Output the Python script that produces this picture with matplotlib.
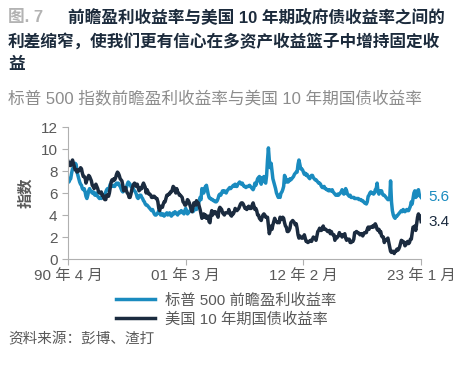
import numpy as np
import pandas as pd
import matplotlib
matplotlib.use("Agg")
import matplotlib.pyplot as plt
import matplotlib.dates as mdates

plt.rcParams['font.family'] = ['Liberation Sans', 'Noto Sans CJK SC', 'DejaVu Sans']

# 月度数据：1990年4月 - 2023年1月
spx_fwd_yield = [
    7.3, 7.0, 7.2, 7.3, 7.8, 8.2, 8.3, 8.5, 8.7,
    8.6, 7.9, 7.6, 7.3, 7.0, 6.8, 6.7, 6.4, 6.3, 6.4, 6.1, 5.7,
    5.5, 5.8, 6.2, 6.4, 6.2, 6.1, 6.0, 6.1, 5.9, 5.8, 6.0, 5.8,
    5.7, 5.6, 5.5, 5.6, 5.5, 5.7, 5.8, 5.8, 5.9, 6.1, 6.3, 6.4,
    6.3, 6.5, 6.8, 6.7, 6.6, 6.7, 6.6, 6.6, 6.8, 6.9, 6.8, 6.9,
    6.7, 6.6, 6.4, 6.2, 6.1, 6.2, 6.3, 6.4, 6.5, 6.8, 7.0, 6.9,
    6.8, 6.6, 6.5, 6.6, 6.3, 6.2, 6.1, 5.9, 5.6, 5.5, 5.7, 5.8,
    5.8, 5.6, 5.5, 5.3, 5.2, 5.0, 4.9, 4.9, 4.8, 4.7, 4.6, 4.5,
    4.4, 4.5, 4.3, 4.1, 4.0, 4.0, 4.1, 4.2, 4.4, 4.3, 4.0, 4.1,
    4.0, 4.1, 3.9, 4.0, 4.1, 4.2, 4.0, 4.1, 4.2, 4.0, 3.9, 4.0,
    4.2, 4.1, 4.3, 4.2, 4.1, 4.0, 4.2, 4.3, 4.2, 4.4, 4.3, 4.2,
    4.1, 4.4, 4.6, 4.3, 4.1, 4.2, 4.3, 4.4, 4.7, 4.5, 4.3, 4.4,
    4.5, 4.6, 4.5, 4.7, 4.9, 5.3, 5.6, 5.4, 6.4, 6.3, 6.0, 6.4,
    6.6, 6.7, 6.3, 5.9, 5.6, 5.5, 5.5, 5.4, 5.4, 5.3, 5.3, 5.2,
    5.2, 5.3, 5.5, 5.8, 5.9, 5.8, 6.0, 6.2, 6.1, 6.2, 6.1, 6.0,
    6.2, 6.3, 6.4, 6.5, 6.4, 6.5, 6.6, 6.7, 6.6, 6.8, 6.6, 6.6,
    6.8, 6.9, 7.0, 6.9, 6.8, 6.9, 6.7, 6.6, 6.6, 6.5, 6.6, 6.6,
    6.6, 6.7, 6.6, 6.5, 6.4, 6.3, 6.5, 6.9, 6.7, 7.0, 7.3, 7.4,
    7.5, 7.0, 6.8, 7.4, 7.2, 7.5, 7.0, 6.9, 7.6, 9.0, 10.1, 9.0,
    8.3, 8.7, 8.0, 7.3, 7.0, 6.7, 6.4, 6.0, 5.8, 5.6, 5.8, 5.6,
    6.0, 6.1, 6.3, 6.6, 7.6, 7.4, 7.0, 7.2, 7.0, 7.1, 7.3, 7.2,
    7.3, 7.4, 7.5, 7.7, 7.8, 7.9, 7.9, 8.6, 9.0, 8.6, 8.2, 8.2,
    8.1, 7.9, 7.7, 7.8, 7.6, 7.7, 7.5, 7.4, 7.3, 7.5, 7.6, 7.6,
    7.4, 7.3, 7.2, 7.2, 7.1, 7.0, 6.9, 6.9, 6.8, 6.6, 6.5, 6.5,
    6.6, 6.4, 6.4, 6.3, 6.3, 6.2, 6.3, 6.2, 6.2, 6.3, 6.1, 6.0,
    5.9, 5.8, 5.8, 5.9, 5.8, 5.9, 6.0, 6.1, 6.3, 6.0, 5.9, 6.0,
    6.4, 6.2, 5.9, 5.8, 5.7, 5.8, 5.6, 5.6, 5.6, 5.6, 5.5, 5.5,
    5.5, 5.5, 5.5, 5.4, 5.4, 5.4, 5.3, 5.3, 5.2, 5.1, 5.1, 5.0,
    5.2, 5.7, 5.8, 6.0, 6.1, 6.0, 6.0, 5.9, 6.0, 6.3, 6.4, 6.9,
    6.1, 5.9, 6.2, 6.1, 6.2, 5.9, 5.8, 5.8, 5.7, 5.6, 5.5, 5.4,
    5.4, 5.5, 7.1, 5.2, 4.4, 4.0, 3.8, 3.7, 3.9, 3.9, 4.0, 4.1,
    4.2, 4.3, 4.4, 4.3, 4.5, 4.4, 4.3, 4.4, 4.5, 4.4, 4.4, 4.6,
    4.8, 5.2, 5.0, 5.5, 6.0, 6.2, 5.6, 5.7, 6.2, 6.3, 5.8, 5.7,
    5.6,
]

ust10y = [
    8.9, 8.7, 8.5, 8.5, 8.8, 9.0, 8.7, 8.4, 8.1,
    8.1, 7.9, 8.1, 8.0, 8.1, 8.3, 8.2, 7.8, 7.5, 7.5, 7.4, 6.9,
    7.2, 7.3, 7.6, 7.5, 7.3, 7.1, 6.7, 6.6, 6.4, 6.6, 6.8, 6.6,
    6.4, 6.1, 6.0, 6.0, 6.1, 5.8, 5.8, 5.5, 5.4, 5.4, 5.8, 5.8,
    5.7, 6.0, 6.5, 7.0, 7.2, 7.1, 7.3, 7.2, 7.4, 7.7, 7.9, 7.8,
    7.6, 7.3, 7.2, 7.1, 6.7, 6.2, 6.4, 6.5, 6.2, 6.0, 5.9, 5.6,
    5.6, 5.9, 6.3, 6.6, 6.8, 6.9, 6.8, 6.6, 6.8, 6.5, 6.2, 6.3,
    6.5, 6.4, 6.7, 6.9, 6.7, 6.5, 6.0, 6.3, 6.1, 5.9, 5.9, 5.8,
    5.6, 5.6, 5.7, 5.7, 5.6, 5.5, 5.5, 5.2, 4.6, 4.4, 4.8, 4.7,
    4.7, 5.0, 5.2, 5.2, 5.5, 5.8, 5.8, 5.9, 5.9, 6.1, 6.1, 6.3,
    6.6, 6.5, 6.2, 6.0, 6.4, 6.1, 6.0, 5.8, 5.8, 5.7, 5.6, 5.2,
    5.1, 4.9, 4.9, 5.1, 5.4, 5.3, 5.1, 4.8, 4.6, 4.3, 4.7, 5.1,
    5.0, 4.9, 5.3, 5.1, 5.1, 4.8, 4.5, 4.1, 3.7, 3.9, 4.1, 3.8,
    4.0, 3.7, 3.8, 3.9, 3.4, 3.3, 4.0, 4.4, 4.0, 4.3, 4.3, 4.3,
    4.1, 4.0, 3.8, 4.5, 4.7, 4.6, 4.5, 4.2, 4.1, 4.0, 4.2, 4.2,
    4.2, 4.2, 4.5, 4.2, 4.0, 3.9, 4.2, 4.1, 4.3, 4.6, 4.5, 4.4,
    4.5, 4.6, 4.8, 5.0, 5.1, 5.1, 5.0, 4.8, 4.6, 4.6, 4.5, 4.7,
    4.8, 4.6, 4.6, 4.6, 4.9, 5.1, 4.8, 4.5, 4.6, 4.4, 4.0, 4.0,
    3.7, 3.6, 3.5, 3.8, 4.0, 4.1, 4.0, 3.8, 3.8, 3.8, 3.0, 2.3,
    2.6, 3.0, 2.7, 3.1, 3.4, 3.7, 3.5, 3.4, 3.3, 3.4, 3.3, 3.8,
    3.6, 3.6, 3.8, 3.7, 3.3, 3.0, 2.9, 2.5, 2.5, 2.6, 2.8, 3.3,
    3.4, 3.5, 3.4, 3.3, 3.1, 3.2, 2.8, 2.2, 1.9, 2.1, 2.0, 1.9,
    1.9, 2.0, 2.2, 1.9, 1.6, 1.6, 1.5, 1.6, 1.6, 1.7, 1.6, 1.8,
    2.0, 1.9, 1.9, 1.7, 2.1, 2.5, 2.6, 2.8, 2.6, 2.6, 2.8, 3.0,
    2.7, 2.7, 2.7, 2.6, 2.5, 2.5, 2.6, 2.3, 2.5, 2.3, 2.2, 2.2,
    1.7, 2.0, 1.9, 2.0, 2.1, 2.4, 2.2, 2.2, 2.0, 2.2, 2.2, 2.3,
    1.9, 1.7, 1.8, 1.8, 1.8, 1.5, 1.5, 1.6, 1.6, 1.8, 2.4, 2.4,
    2.5, 2.4, 2.4, 2.3, 2.2, 2.3, 2.3, 2.1, 2.3, 2.4, 2.4, 2.4,
    2.7, 2.9, 2.7, 2.9, 2.9, 2.9, 3.0, 2.9, 3.1, 3.2, 3.0, 2.7,
    2.6, 2.7, 2.4, 2.5, 2.1, 2.0, 2.0, 1.5, 1.7, 1.7, 1.8, 1.9,
    1.5, 1.1, 0.7, 0.6, 0.7, 0.7, 0.5, 0.7, 0.7, 0.9, 0.8, 0.9,
    1.1, 1.4, 1.7, 1.6, 1.6, 1.5, 1.2, 1.3, 1.5, 1.6, 1.4, 1.5,
    1.8, 1.8, 2.3, 2.9, 2.8, 3.0, 2.6, 3.2, 3.8, 4.1, 3.7, 3.9,
    3.4,
]

dates = pd.date_range("1990-04-01", "2023-01-01", freq="MS")
tick_dates = ["1990-04-01", "2001-03-01", "2012-02-01", "2023-01-01"]
tick_labels = ["90 年 4 月", "01 年 3 月", "12 年 2 月", "23 年 1 月"]

BLUE = "#1a8bbf"
NAVY = "#1b2b3f"
GREY = "#595959"

fig = plt.figure(figsize=(4.69, 3.66), dpi=100)
ax = fig.add_axes([0.145, 0.2923, 0.753, 0.3607])

ax.plot(dates, spx_fwd_yield, color=BLUE, lw=2.5, label="标普 500 前瞻盈利收益率", solid_joinstyle="round")
ax.plot(dates, ust10y, color=NAVY, lw=2.5, label="美国 10 年期国债收益率", solid_joinstyle="round")

ax.set_ylim(0, 12)
ax.set_yticks(range(0, 13, 2))
ax.set_xlim(pd.Timestamp(tick_dates[0]), pd.Timestamp(tick_dates[-1]))
ax.set_xticks([pd.Timestamp(d) for d in tick_dates])
ax.set_xticklabels(tick_labels)

for s in ["top", "right"]:
    ax.spines[s].set_visible(False)
for s in ["left", "bottom"]:
    ax.spines[s].set_color("#b0b0b0")
ax.tick_params(colors="#b0b0b0", labelcolor=GREY, labelsize=11, length=4, width=0.8)
ax.tick_params(axis="x", pad=3)
ax.set_ylabel("指数", color=GREY, fontsize=11, fontweight="bold", labelpad=5)

# 末端数值
ax.text(1.02, spx_fwd_yield[-1] / 12, f"{spx_fwd_yield[-1]:.1f}", transform=ax.transAxes,
        color=BLUE, fontsize=11, va="center", ha="left")
ax.text(1.02, ust10y[-1] / 12, f"{ust10y[-1]:.1f}", transform=ax.transAxes,
        color=NAVY, fontsize=11, va="center", ha="left")

leg = fig.legend(loc="upper left", bbox_to_anchor=(0.235, 0.215), frameon=False,
                 fontsize=11, handlelength=2.5, handletextpad=0.7, labelspacing=0.3,
                 borderaxespad=0)
for t in leg.get_texts():
    t.set_color(GREY)

# 标题
fig.text(0.017, 0.951, "图. 7", color="#b3b3b3", fontsize=12, fontweight="bold", va="center")
fig.text(0.145, 0.951, "前瞻盈利收益率与美国 10 年期政府债收益率之间的", color="#1c2b3c",
         fontsize=12, fontweight="bold", va="center")
fig.text(0.017, 0.887, "利差缩窄，使我们更有信心在多资产收益篮子中增持固定收", color="#1c2b3c",
         fontsize=12, fontweight="bold", va="center")
fig.text(0.017, 0.825, "益", color="#1c2b3c", fontsize=12, fontweight="bold", va="center")
fig.text(0.017, 0.730, "标普 500 指数前瞻盈利收益率与美国 10 年期国债收益率", color="#8c8c8c",
         fontsize=12, va="center")
fig.text(0.017, 0.072, "资料来源：彭博、渣打", color=GREY, fontsize=10.5, va="center")

fig.savefig("out.png", dpi=100)
